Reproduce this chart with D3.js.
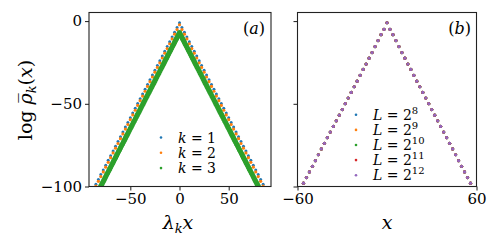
<!DOCTYPE html>
<html>
<head>
<meta charset="utf-8">
<script src="https://cdn.jsdelivr.net/npm/d3@7"></script>
<style>
  body { margin: 0; background: #fff; }
  svg text { font-family: "DejaVu Serif", serif; fill: #000; }
</style>
</head>
<body>
<div id="chart"></div>
<script>
const width = 498;
const height = 249;

// panel (a): lambda_k x and log rho_k for k = 1, 2, 3
const xK12 = [-85, -82.5, -80, -77.5, -75, -72.5, -70, -67.5, -65, -62.5, -60, -57.5, -55, -52.5, -50, -47.5, -45, -42.5, -40, -37.5, -35, -32.5, -30, -27.5, -25, -22.5, -20, -17.5, -15, -12.5, -10, -7.5, -5, -2.5,
    0, 2.5, 5, 7.5, 10, 12.5, 15, 17.5, 20, 22.5, 25, 27.5, 30, 32.5, 35, 37.5, 40, 42.5, 45, 47.5, 50, 52.5, 55, 57.5, 60, 62.5, 65, 67.5, 70, 72.5, 75, 77.5, 80, 82.5, 85];
const yK1 = [-98.6, -95.7, -92.8, -90.0, -87.1, -84.2, -81.4, -78.5, -75.6, -72.8, -69.9, -67.0, -64.1, -61.3, -58.4, -55.5, -52.7, -49.8, -46.9, -44.1, -41.2, -38.3, -35.4, -32.6, -29.7, -26.8, -24.0, -21.1, -18.2, -15.4, -12.5, -9.6, -6.7, -3.9,
    -1.0, -3.9, -6.7, -9.6, -12.5, -15.4, -18.2, -21.1, -24.0, -26.8, -29.7, -32.6, -35.4, -38.3, -41.2, -44.1, -46.9, -49.8, -52.7, -55.5, -58.4, -61.3, -64.1, -67.0, -69.9, -72.8, -75.6, -78.5, -81.4, -84.2, -87.1, -90.0, -92.8, -95.7, -98.6];
const yK2 = [-99.8, -96.9, -94.0, -91.2, -88.3, -85.4, -82.6, -79.7, -76.8, -74.0, -71.1, -68.2, -65.3, -62.5, -59.6, -56.7, -53.9, -51.0, -48.1, -45.3, -42.4, -39.5, -36.6, -33.8, -30.9, -28.0, -25.2, -22.3, -19.4, -16.6, -13.7, -10.8, -7.9, -5.1,
    -2.2, -5.1, -7.9, -10.8, -13.7, -16.6, -19.4, -22.3, -25.2, -28.0, -30.9, -33.8, -36.6, -39.5, -42.4, -45.3, -48.1, -51.0, -53.9, -56.7, -59.6, -62.5, -65.3, -68.2, -71.1, -74.0, -76.8, -79.7, -82.6, -85.4, -88.3, -91.2, -94.0, -96.9, -99.8];
const xK3 = [-82, -81, -80, -79, -78, -77, -76, -75, -74, -73, -72, -71, -70, -69, -68, -67, -66, -65, -64, -63, -62, -61, -60, -59, -58, -57, -56, -55, -54, -53, -52, -51, -50, -49, -48, -47, -46, -45, -44, -43, -42, -41,
    -40, -39, -38, -37, -36, -35, -34, -33, -32, -31, -30, -29, -28, -27, -26, -25, -24, -23, -22, -21, -20, -19, -18, -17, -16, -15, -14, -13, -12, -11, -10, -9, -8, -7, -6, -5, -4, -3, -2, -1,
    0, 1, 2, 3, 4, 5, 6, 7, 8, 9, 10, 11, 12, 13, 14, 15, 16, 17, 18, 19, 20, 21, 22, 23, 24, 25, 26, 27, 28, 29, 30, 31, 32, 33, 34, 35, 36, 37, 38, 39, 40,
    41, 42, 43, 44, 45, 46, 47, 48, 49, 50, 51, 52, 53, 54, 55, 56, 57, 58, 59, 60, 61, 62, 63, 64, 65, 66, 67, 68, 69, 70, 71, 72, 73, 74, 75, 76, 77, 78, 79, 80, 81, 82];
const yK3 = [-102.1, -101.0, -99.8, -98.6, -97.5, -96.3, -95.2, -94.0, -92.8, -91.7, -90.5, -89.4, -88.2, -87.0, -85.9, -84.7, -83.6, -82.4, -81.2, -80.1, -78.9, -77.8, -76.6, -75.4, -74.3, -73.1, -72.0, -70.8, -69.6, -68.5, -67.3, -66.2, -65.0, -63.8, -62.7, -61.5, -60.4, -59.2, -58.0, -56.9, -55.7, -54.6,
    -53.4, -52.2, -51.1, -49.9, -48.8, -47.6, -46.4, -45.3, -44.1, -43.0, -41.8, -40.6, -39.5, -38.3, -37.2, -36.0, -34.8, -33.7, -32.5, -31.4, -30.2, -29.0, -27.9, -26.7, -25.6, -24.4, -23.2, -22.1, -20.9, -19.8, -18.6, -17.4, -16.3, -15.1, -14.0, -12.8, -11.6, -10.5, -9.3, -8.2,
    -7.0, -8.2, -9.3, -10.5, -11.6, -12.8, -14.0, -15.1, -16.3, -17.4, -18.6, -19.8, -20.9, -22.1, -23.2, -24.4, -25.6, -26.7, -27.9, -29.0, -30.2, -31.4, -32.5, -33.7, -34.8, -36.0, -37.2, -38.3, -39.5, -40.6, -41.8, -43.0, -44.1, -45.3, -46.4, -47.6, -48.8, -49.9, -51.1, -52.2, -53.4,
    -54.6, -55.7, -56.9, -58.0, -59.2, -60.4, -61.5, -62.7, -63.8, -65.0, -66.2, -67.3, -68.5, -69.6, -70.8, -72.0, -73.1, -74.3, -75.4, -76.6, -77.8, -78.9, -80.1, -81.2, -82.4, -83.6, -84.7, -85.9, -87.0, -88.2, -89.4, -90.5, -91.7, -92.8, -94.0, -95.2, -96.3, -97.5, -98.6, -99.8, -101.0, -102.1];
const kLabels = ["1", "2", "3"];

// panel (b): x and log rho for L = 2^8 .. 2^12 (curves coincide)
const xL = [-56, -54, -52, -50, -48, -46, -44, -42, -40, -38, -36, -34, -32, -30, -28, -26, -24, -22, -20, -18, -16, -14, -12, -10, -8, -6, -4, -2,
    0, 2, 4, 6, 8, 10, 12, 14, 16, 18, 20, 22, 24, 26, 28, 30, 32, 34, 36, 38, 40, 42, 44, 46, 48, 50, 52, 54, 56];
const yL = [-98.0, -94.6, -91.2, -87.8, -84.4, -80.8, -77.3, -73.9, -70.5, -67.1, -63.7, -60.3, -56.9, -53.5, -49.9, -46.5, -43.1, -39.7, -36.3, -32.8, -29.2, -26.0, -22.4, -19.0, -15.4, -11.8, -8.2, -5.0,
    -1.0, -5.0, -8.2, -11.8, -15.4, -19.0, -22.4, -26.0, -29.2, -32.8, -36.3, -39.7, -43.1, -46.5, -49.9, -53.5, -56.9, -60.3, -63.7, -67.1, -70.5, -73.9, -77.3, -80.8, -84.4, -87.8, -91.2, -94.6, -98.0];
const lExponents = ["8", "9", "10", "11", "12"];

const yTicks = [0, -50, -100];
const xTicksA = [-50, 0, 50];
const xTicksB = [-60, 60];

const colors = ["#1f77b4", "#ff7f0e", "#2ca02c", "#d62728", "#9467bd"];
const fmt = d => d < 0 ? "\u2212" + Math.abs(d) : String(d);
const serif = "'DejaVu Serif', serif";

const svg = d3.select("#chart").append("svg")
    .attr("width", width)
    .attr("height", height);

const plotTop = 12.5, plotBottom = 186.5;
const y = d3.scaleLinear().domain([-100, 5.2]).range([plotBottom, plotTop]);
const xA = d3.scaleLinear().domain([-92, 93]).range([89, 271]);
const xB = d3.scaleLinear().domain([-60, 60]).range([297.5, 476.5]);

const defs = svg.append("defs");

function panel(id, x, xTicks, showYLabels) {
    const [x0, x1] = x.range();
    defs.append("clipPath").attr("id", id)
        .append("rect").attr("x", x0).attr("y", plotTop).attr("width", x1 - x0).attr("height", plotBottom - plotTop);

    const g = svg.append("g");
    const xAxis = d3.axisBottom(x).tickValues(xTicks).tickSize(4).tickPadding(3).tickFormat(fmt);
    const yAxis = d3.axisLeft(y).tickValues(yTicks).tickSize(4).tickPadding(3)
        .tickFormat(showYLabels ? fmt : "");

    g.append("g").attr("transform", `translate(0,${plotBottom})`).call(xAxis)
        .call(a => a.select(".domain").remove());
    g.append("g").attr("transform", `translate(${x0},0)`).call(yAxis)
        .call(a => a.select(".domain").remove());
    g.selectAll("g").attr("font-family", serif);
    g.selectAll(".tick line").attr("stroke", "#000").attr("stroke-width", 0.9);
    g.selectAll(".tick text")
        .attr("font-family", serif)
        .attr("font-size", 15);

    const plot = svg.append("g").attr("clip-path", `url(#${id})`);
    return { g, plot, x0, x1 };
}

function frame(p) {
    svg.append("rect")
        .attr("x", p.x0).attr("y", plotTop)
        .attr("width", p.x1 - p.x0).attr("height", plotBottom - plotTop)
        .attr("fill", "none").attr("stroke", "#222").attr("stroke-width", 1.1);
}

// panel (a)
const pA = panel("clipA", xA, xTicksA, true);
const seriesA = [
    { xs: xK12, ys: yK1, r: 1.5 },
    { xs: xK12, ys: yK2, r: 1.6 },
    { xs: xK3, ys: yK3, r: 2.6 }
];
seriesA.forEach((s, i) => {
    pA.plot.selectAll(null)
        .data(s.xs.map((v, j) => [v, s.ys[j]]))
        .enter().append("circle")
        .attr("cx", d => xA(d[0]))
        .attr("cy", d => y(d[1]))
        .attr("r", s.r)
        .attr("fill", colors[i]);
});
frame(pA);

// panel (b)
const pB = panel("clipB", xB, xTicksB, false);
lExponents.forEach((e, i) => {
    pB.plot.selectAll(null)
        .data(xL.map((v, j) => [v, yL[j]]))
        .enter().append("circle")
        .attr("cx", d => xB(d[0]))
        .attr("cy", d => y(d[1]))
        .attr("r", 1.6)
        .attr("fill", colors[i]);
});
frame(pB);

// legends
const legA = svg.append("g").attr("font-family", serif);
kLabels.forEach((k, i) => {
    const ly = 137.5 + i * 15.3;
    legA.append("circle").attr("cx", 161).attr("cy", ly).attr("r", 1.3).attr("fill", colors[i]);
    const t = legA.append("text").attr("x", 178).attr("y", ly + 5).attr("font-size", 14);
    t.append("tspan").attr("font-style", "italic").text("k");
    t.append("tspan").text(" = " + k);
});

const legB = svg.append("g").attr("font-family", serif);
lExponents.forEach((e, i) => {
    const ly = 114.8 + i * 15.1;
    legB.append("circle").attr("cx", 356).attr("cy", ly).attr("r", 1.3).attr("fill", colors[i]);
    const t = legB.append("text").attr("x", 373).attr("y", ly + 5).attr("font-size", 14);
    t.append("tspan").attr("font-style", "italic").text("L");
    t.append("tspan").text(" = 2");
    t.append("tspan").attr("font-size", 10).attr("dy", -6).text(e);
});

// panel tags
svg.append("text").attr("x", 265).attr("y", 34).attr("text-anchor", "end")
    .attr("font-family", serif).attr("font-size", 16)
    .html("(<tspan font-style='italic'>a</tspan>)");
svg.append("text").attr("x", 471).attr("y", 34).attr("text-anchor", "end")
    .attr("font-family", serif).attr("font-size", 16)
    .html("(<tspan font-style='italic'>b</tspan>)");

// axis labels
const xlabA = svg.append("text").attr("x", 178).attr("y", 229).attr("text-anchor", "middle")
    .attr("font-family", serif).attr("font-size", 19);
xlabA.append("tspan").attr("font-style", "italic").text("λ");
xlabA.append("tspan").attr("font-style", "italic").attr("font-size", 13).attr("dy", 4).text("k");
xlabA.append("tspan").attr("font-style", "italic").attr("dy", -4).text("x");

svg.append("text").attr("x", 387).attr("y", 229).attr("text-anchor", "middle")
    .attr("font-family", serif).attr("font-size", 19).attr("font-style", "italic").text("x");

const ylab = svg.append("text")
    .attr("transform", "translate(32,100) rotate(-90)")
    .attr("text-anchor", "middle").attr("font-family", serif).attr("font-size", 19);
ylab.append("tspan").text("log ");
ylab.append("tspan").attr("font-style", "italic").text("ρ\u0305");
ylab.append("tspan").attr("font-style", "italic").attr("font-size", 13).attr("dy", 4).text("k");
ylab.append("tspan").attr("dy", -4).text("(");
ylab.append("tspan").attr("font-style", "italic").text("x");
ylab.append("tspan").text(")");
</script>
</body>
</html>
